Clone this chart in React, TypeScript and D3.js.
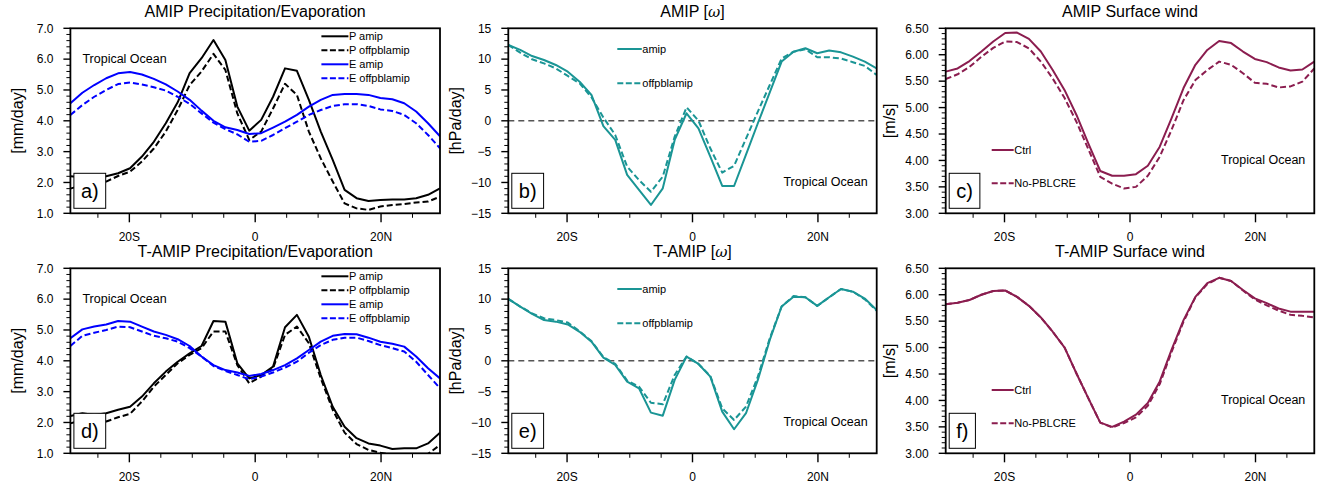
import React, { useEffect, useRef } from "react";
import * as d3 from "d3";

// Latitudes of the model grid points (deg, negative = south)
const lats = [-29.37, -27.47, -25.58, -23.68, -21.79, -19.89, -18.0, -16.11, -14.21, -12.32, -10.42, -8.53, -6.63, -4.74, -2.84, -0.95, 0.95, 2.84, 4.74, 6.63, 8.53, 10.42, 12.32, 14.21, 16.11, 18.0, 19.89, 21.79, 23.68, 25.58, 27.47, 29.37];

// a) AMIP precipitation / evaporation [mm/day]
const aPamip = [2.2, 2.17, 2.17, 2.2, 2.3, 2.46, 2.84, 3.32, 3.92, 4.6, 5.55, 6.03, 6.62, 5.97, 4.46, 3.68, 4.03, 4.78, 5.7, 5.62, 4.68, 3.65, 2.73, 1.76, 1.49, 1.4, 1.43, 1.45, 1.45, 1.49, 1.6, 1.81];
const aPoff = [1.8, 1.92, 1.97, 2.03, 2.21, 2.35, 2.68, 3.1, 3.65, 4.35, 5.16, 5.6, 6.17, 5.65, 4.24, 3.38, 3.65, 4.4, 5.2, 4.84, 3.65, 2.78, 2.03, 1.32, 1.16, 1.11, 1.22, 1.27, 1.3, 1.35, 1.38, 1.54];
const aEamip = [4.57, 4.91, 5.16, 5.38, 5.54, 5.58, 5.5, 5.36, 5.18, 4.95, 4.68, 4.33, 4.0, 3.79, 3.7, 3.57, 3.6, 3.78, 3.97, 4.19, 4.46, 4.68, 4.84, 4.87, 4.87, 4.84, 4.74, 4.7, 4.57, 4.3, 3.92, 3.5];
const aEoff = [4.19, 4.51, 4.78, 5.0, 5.19, 5.24, 5.18, 5.09, 4.98, 4.78, 4.55, 4.24, 3.94, 3.73, 3.56, 3.32, 3.35, 3.54, 3.76, 3.97, 4.19, 4.35, 4.48, 4.54, 4.54, 4.48, 4.37, 4.32, 4.19, 3.92, 3.54, 3.11];

// b) AMIP omega [hPa/day]
const bAmip = [12.3, 11.5, 10.5, 9.86, 9.05, 7.97, 6.35, 4.19, -0.85, -3.1, -8.78, -11.2, -13.65, -10.95, -3.1, 1.22, -1.22, -5.8, -10.57, -10.57, -5.5, -0.4, 4.6, 9.6, 11.2, 11.76, 10.95, 11.4, 11.1, 10.4, 9.6, 8.5];
const bOff = [12.3, 11.05, 9.97, 9.32, 8.5, 7.27, 6.08, 3.81, 0.55, -2.3, -7.43, -9.6, -11.5, -9.05, -2.57, 2.19, 0.03, -4.46, -8.4, -7.3, -2.9, 1.5, 5.8, 10.1, 11.2, 11.6, 10.3, 10.3, 10.1, 9.5, 8.9, 7.43];

// c) AMIP surface wind [m/s]
const cCtrl = [5.68, 5.74, 5.88, 6.06, 6.25, 6.41, 6.42, 6.3, 6.06, 5.71, 5.33, 4.86, 4.32, 3.8, 3.71, 3.71, 3.74, 3.9, 4.26, 4.8, 5.37, 5.81, 6.09, 6.26, 6.22, 6.06, 5.92, 5.86, 5.76, 5.7, 5.72, 5.87];
const cNo = [5.54, 5.63, 5.77, 5.96, 6.13, 6.25, 6.24, 6.12, 5.87, 5.55, 5.18, 4.73, 4.21, 3.69, 3.56, 3.47, 3.5, 3.71, 4.07, 4.58, 5.14, 5.52, 5.71, 5.87, 5.81, 5.65, 5.47, 5.45, 5.38, 5.4, 5.49, 5.74];

// d) T-AMIP precipitation / evaporation [mm/day]
const dPamip = [2.21, 2.3, 2.24, 2.3, 2.41, 2.51, 2.84, 3.27, 3.65, 3.97, 4.24, 4.48, 5.29, 5.27, 3.92, 3.43, 3.54, 3.81, 5.09, 5.49, 4.78, 3.54, 2.51, 1.86, 1.49, 1.32, 1.25, 1.14, 1.16, 1.16, 1.32, 1.67];
const dPoff = [1.97, 2.08, 2.0, 2.03, 2.17, 2.28, 2.68, 3.16, 3.54, 3.92, 4.19, 4.41, 4.95, 4.95, 3.86, 3.27, 3.49, 3.76, 4.84, 5.11, 4.57, 3.43, 2.41, 1.67, 1.3, 1.11, 1.02, 0.95, 0.95, 0.95, 0.98, 1.27];
const dEamip = [4.73, 5.02, 5.11, 5.18, 5.29, 5.27, 5.11, 4.95, 4.84, 4.7, 4.48, 4.14, 3.86, 3.7, 3.62, 3.51, 3.57, 3.7, 3.86, 4.08, 4.35, 4.62, 4.81, 4.87, 4.86, 4.75, 4.62, 4.55, 4.46, 4.14, 3.76, 3.43];
const dEoff = [4.48, 4.81, 4.91, 5.0, 5.11, 5.09, 4.95, 4.81, 4.73, 4.62, 4.41, 4.14, 3.83, 3.67, 3.54, 3.4, 3.49, 3.62, 3.78, 3.97, 4.26, 4.51, 4.68, 4.75, 4.75, 4.64, 4.51, 4.41, 4.3, 3.97, 3.54, 3.11];

// e) T-AMIP omega [hPa/day]
const eAmip = [10.03, 8.8, 7.6, 6.6, 6.35, 5.9, 4.7, 3.1, 0.5, -0.68, -3.38, -4.46, -8.4, -8.9, -3.1, 0.68, -0.51, -2.57, -8.24, -11.1, -8.5, -3.1, 3.38, 8.8, 10.4, 10.3, 8.9, 10.3, 11.65, 11.2, 10.1, 8.24];
const eOff = [10.03, 8.8, 7.7, 6.9, 6.6, 6.2, 4.8, 3.2, 0.6, -0.5, -3.2, -4.2, -6.8, -7.05, -2.3, 0.7, -0.5, -2.46, -7.7, -9.6, -7.43, -2.57, 3.65, 8.8, 10.5, 10.3, 8.9, 10.3, 11.65, 11.2, 9.97, 8.1];

// f) T-AMIP surface wind [m/s]
const fCtrl = [5.82, 5.85, 5.9, 6.0, 6.07, 6.08, 5.96, 5.79, 5.57, 5.3, 5.0, 4.51, 4.04, 3.58, 3.5, 3.6, 3.73, 3.95, 4.36, 4.96, 5.52, 5.96, 6.22, 6.32, 6.26, 6.09, 5.93, 5.84, 5.74, 5.68, 5.68, 5.68];
const fNo = [5.82, 5.85, 5.9, 6.0, 6.07, 6.08, 5.96, 5.79, 5.57, 5.3, 5.0, 4.51, 4.04, 3.58, 3.49, 3.57, 3.68, 3.9, 4.31, 4.92, 5.49, 5.95, 6.2, 6.32, 6.26, 6.08, 5.91, 5.8, 5.7, 5.62, 5.6, 5.57];

// Axis ticks
const xMajor = [-20, 0, 20];
const xMajorLabels = ["20S", "0", "20N"];
const xMinor = [-25, -15, -10, -5, 5, 10, 15, 25];
const peTicks = [1, 2, 3, 4, 5, 6, 7];
const omegaTicks = [-15, -10, -5, 0, 5, 10, 15];
const windTicks = [3.0, 3.5, 4.0, 4.5, 5.0, 5.5, 6.0, 6.5];

// Legend labels
const peLegend = ["P amip", "P offpblamip", "E amip", "E offpblamip"];
const omegaLegend = ["amip", "offpblamip"];
const windLegend = ["Ctrl", "No-PBLCRE"];

const BLACK = "#000000";
const BLUE = "#0000ff";
const TEAL = "#1a9595";
const WINE = "#8b1d4f";
const FONT = "'Liberation Sans', Arial, Helvetica, sans-serif";

type Series = { values: number[]; color: string; dashed: boolean; label: string };
type Panel = {
  col: number;
  row: number;
  title: string;
  omegaTitle?: string;
  ylabel: string;
  domain: [number, number];
  ticks: number[];
  minorStep: number;
  fmt: (v: number) => string;
  series: Series[];
  tag: string;
  zeroLine?: boolean;
  kind: "pe" | "omega" | "wind";
};

const cols = [
  { l: 70.4, r: 440 },
  { l: 508.3, r: 876.7 },
  { l: 945.7, r: 1314.3 },
];
const rows = [
  { t: 28.3, b: 213.3 },
  { t: 268.3, b: 453.3 },
];

const f1 = d3.format(".1f");
const f0 = d3.format("d");
const f2 = d3.format(".2f");

function peSeries(p1: number[], p2: number[], e1: number[], e2: number[]): Series[] {
  return [
    { values: p1, color: BLACK, dashed: false, label: peLegend[0] },
    { values: p2, color: BLACK, dashed: true, label: peLegend[1] },
    { values: e1, color: BLUE, dashed: false, label: peLegend[2] },
    { values: e2, color: BLUE, dashed: true, label: peLegend[3] },
  ];
}

const panels: Panel[] = [
  { col: 0, row: 0, title: "AMIP Precipitation/Evaporation", ylabel: "[mm/day]", domain: [1, 7], ticks: peTicks, minorStep: 0.2, fmt: f1, series: peSeries(aPamip, aPoff, aEamip, aEoff), tag: "a)", kind: "pe" },
  { col: 1, row: 0, title: "AMIP ", omegaTitle: "AMIP", ylabel: "[hPa/day]", domain: [-15, 15], ticks: omegaTicks, minorStep: 1, fmt: f0, series: [
    { values: bAmip, color: TEAL, dashed: false, label: omegaLegend[0] },
    { values: bOff, color: TEAL, dashed: true, label: omegaLegend[1] },
  ], tag: "b)", zeroLine: true, kind: "omega" },
  { col: 2, row: 0, title: "AMIP Surface wind", ylabel: "[m/s]", domain: [3, 6.5], ticks: windTicks, minorStep: 0.1, fmt: f2, series: [
    { values: cCtrl, color: WINE, dashed: false, label: windLegend[0] },
    { values: cNo, color: WINE, dashed: true, label: windLegend[1] },
  ], tag: "c)", kind: "wind" },
  { col: 0, row: 1, title: "T-AMIP Precipitation/Evaporation", ylabel: "[mm/day]", domain: [1, 7], ticks: peTicks, minorStep: 0.2, fmt: f1, series: peSeries(dPamip, dPoff, dEamip, dEoff), tag: "d)", kind: "pe" },
  { col: 1, row: 1, title: "T-AMIP ", omegaTitle: "T-AMIP", ylabel: "[hPa/day]", domain: [-15, 15], ticks: omegaTicks, minorStep: 1, fmt: f0, series: [
    { values: eAmip, color: TEAL, dashed: false, label: omegaLegend[0] },
    { values: eOff, color: TEAL, dashed: true, label: omegaLegend[1] },
  ], tag: "e)", zeroLine: true, kind: "omega" },
  { col: 2, row: 1, title: "T-AMIP Surface wind", ylabel: "[m/s]", domain: [3, 6.5], ticks: windTicks, minorStep: 0.1, fmt: f2, series: [
    { values: fCtrl, color: WINE, dashed: false, label: windLegend[0] },
    { values: fNo, color: WINE, dashed: true, label: windLegend[1] },
  ], tag: "f)", kind: "wind" },
];

export default function App() {
  const ref = useRef<SVGSVGElement | null>(null);

  useEffect(() => {
    const svg = d3.select(ref.current);
    svg.selectAll("*").remove();
    svg.append("rect").attr("width", 1324).attr("height", 486).attr("fill", "#fff");

    panels.forEach((p, pi) => {
      const c = cols[p.col];
      const r = rows[p.row];
      const x = d3.scaleLinear().domain([lats[0], lats[lats.length - 1]]).range([c.l, c.r]);
      const y = d3.scaleLinear().domain(p.domain).range([r.b, r.t]);
      const g = svg.append("g").attr("font-family", FONT);

      const clipId = `clip${pi}`;
      g.append("clipPath").attr("id", clipId).append("rect")
        .attr("x", c.l).attr("y", r.t).attr("width", c.r - c.l).attr("height", r.b - r.t);

      if (p.zeroLine) {
        g.append("line").attr("x1", c.l).attr("x2", c.r).attr("y1", y(0)).attr("y2", y(0))
          .attr("stroke", "#555").attr("stroke-width", 1.4).attr("stroke-dasharray", "6,4");
      }

      const line = d3.line<number>().x((_, i) => x(lats[i])).y((v) => y(v));
      const lg = g.append("g").attr("clip-path", `url(#${clipId})`);
      p.series.forEach((s) => {
        lg.append("path").attr("d", line(s.values) as string).attr("fill", "none")
          .attr("stroke", s.color).attr("stroke-width", 2)
          .attr("stroke-linejoin", "round")
          .attr("stroke-dasharray", s.dashed ? "6,3" : null);
      });

      // frame
      g.append("rect").attr("x", c.l).attr("y", r.t).attr("width", c.r - c.l).attr("height", r.b - r.t)
        .attr("fill", "none").attr("stroke", "#000").attr("stroke-width", 1.8);

      // y ticks
      const [d0, d1] = p.domain;
      const nMinor = Math.round((d1 - d0) / p.minorStep);
      for (let k = 0; k <= nMinor; k++) {
        const v = d0 + k * p.minorStep;
        const isMajor = p.ticks.some((t) => Math.abs(t - v) < 1e-6);
        g.append("line").attr("x1", c.l).attr("x2", c.l - (isMajor ? 7 : 4))
          .attr("y1", y(v)).attr("y2", y(v)).attr("stroke", "#000").attr("stroke-width", isMajor ? 1.4 : 1);
      }
      p.ticks.forEach((t) => {
        g.append("text").attr("x", c.l - 17).attr("y", y(t)).attr("dy", "0.36em")
          .attr("text-anchor", "end").attr("font-size", 12).text(p.fmt(t));
      });

      // x ticks
      xMinor.forEach((v) => {
        g.append("line").attr("x1", x(v)).attr("x2", x(v)).attr("y1", r.b).attr("y2", r.b + 4.5)
          .attr("stroke", "#000").attr("stroke-width", 1);
      });
      xMajor.forEach((v, i) => {
        g.append("line").attr("x1", x(v)).attr("x2", x(v)).attr("y1", r.b).attr("y2", r.b + 9)
          .attr("stroke", "#000").attr("stroke-width", 1.4);
        g.append("text").attr("x", x(v)).attr("y", r.b + 28).attr("text-anchor", "middle")
          .attr("font-size", 12).text(xMajorLabels[i]);
      });

      // title
      const tt = g.append("text").attr("x", (c.l + c.r) / 2).attr("y", r.t - 11)
        .attr("text-anchor", "middle").attr("font-size", 16);
      if (p.omegaTitle) {
        tt.append("tspan").text(p.omegaTitle + " [");
        tt.append("tspan").attr("font-style", "italic").attr("font-family", "'DejaVu Serif', serif").attr("font-size", 15).text("ω");
        tt.append("tspan").text("]");
      } else {
        tt.text(p.title);
      }

      // y label
      const yl = c.l - (p.kind === "wind" ? 56 : 53);
      g.append("text").attr("transform", `translate(${yl},${(r.t + r.b) / 2}) rotate(-90)`)
        .attr("text-anchor", "middle").attr("dy", "0.35em").attr("font-size", 16).text(p.ylabel);

      // legend
      if (p.kind === "pe") {
        p.series.forEach((s, i) => {
          const ly = r.t + 8 + i * 14;
          g.append("line").attr("x1", c.l + 251).attr("x2", c.l + 278).attr("y1", ly).attr("y2", ly)
            .attr("stroke", s.color).attr("stroke-width", 2).attr("stroke-dasharray", s.dashed ? "6,2.5" : null);
          g.append("text").attr("x", c.l + 278.5).attr("y", ly).attr("dy", "0.36em").attr("font-size", 11).text(s.label);
        });
        g.append("text").attr("x", c.l + 12).attr("y", r.t + 34.5).attr("font-size", 12.5).text("Tropical Ocean");
      } else if (p.kind === "omega") {
        p.series.forEach((s, i) => {
          const ly = r.t + 20.7 + i * 34.3;
          g.append("line").attr("x1", c.l + 109).attr("x2", c.l + 133.5).attr("y1", ly).attr("y2", ly)
            .attr("stroke", s.color).attr("stroke-width", 2).attr("stroke-dasharray", s.dashed ? "6,2.5" : null);
          g.append("text").attr("x", c.l + 134).attr("y", ly).attr("dy", "0.36em").attr("font-size", 11).text(s.label);
        });
        g.append("text").attr("x", c.r - 9).attr("y", r.t + 157.5).attr("text-anchor", "end").attr("font-size", 12.5).text("Tropical Ocean");
      } else {
        p.series.forEach((s, i) => {
          const ly = r.t + 121.7 + i * 33.3;
          g.append("line").attr("x1", c.l + 46).attr("x2", c.l + 68).attr("y1", ly).attr("y2", ly)
            .attr("stroke", s.color).attr("stroke-width", 2).attr("stroke-dasharray", s.dashed ? "6,2.5" : null);
          g.append("text").attr("x", c.l + 68.5).attr("y", ly).attr("dy", "0.36em").attr("font-size", 11).text(s.label);
        });
        g.append("text").attr("x", c.r - 9).attr("y", r.t + 135.5).attr("text-anchor", "end").attr("font-size", 12.5).text("Tropical Ocean");
      }

      // panel tag box
      const tagG = g.append("g");
      const rect = tagG.append("rect").attr("fill", "#fff").attr("stroke", "#000").attr("stroke-width", 1);
      const tx = tagG.append("text").attr("font-size", 20).attr("text-anchor", "middle").attr("dy", "0.35em").text(p.tag);
      const tw = (tx.node() as SVGTextElement).getComputedTextLength();
      const bw = tw + 14;
      const bx = c.l + 3.5;
      const by = r.b - 40;
      rect.attr("x", bx).attr("y", by).attr("width", bw).attr("height", 35);
      tx.attr("x", bx + bw / 2).attr("y", by + 17.5);
    });
  }, []);

  return (
    <svg ref={ref} width={1324} height={486}
      style={{ position: "absolute", left: 0, top: 0, background: "#fff" }} />
  );
}
